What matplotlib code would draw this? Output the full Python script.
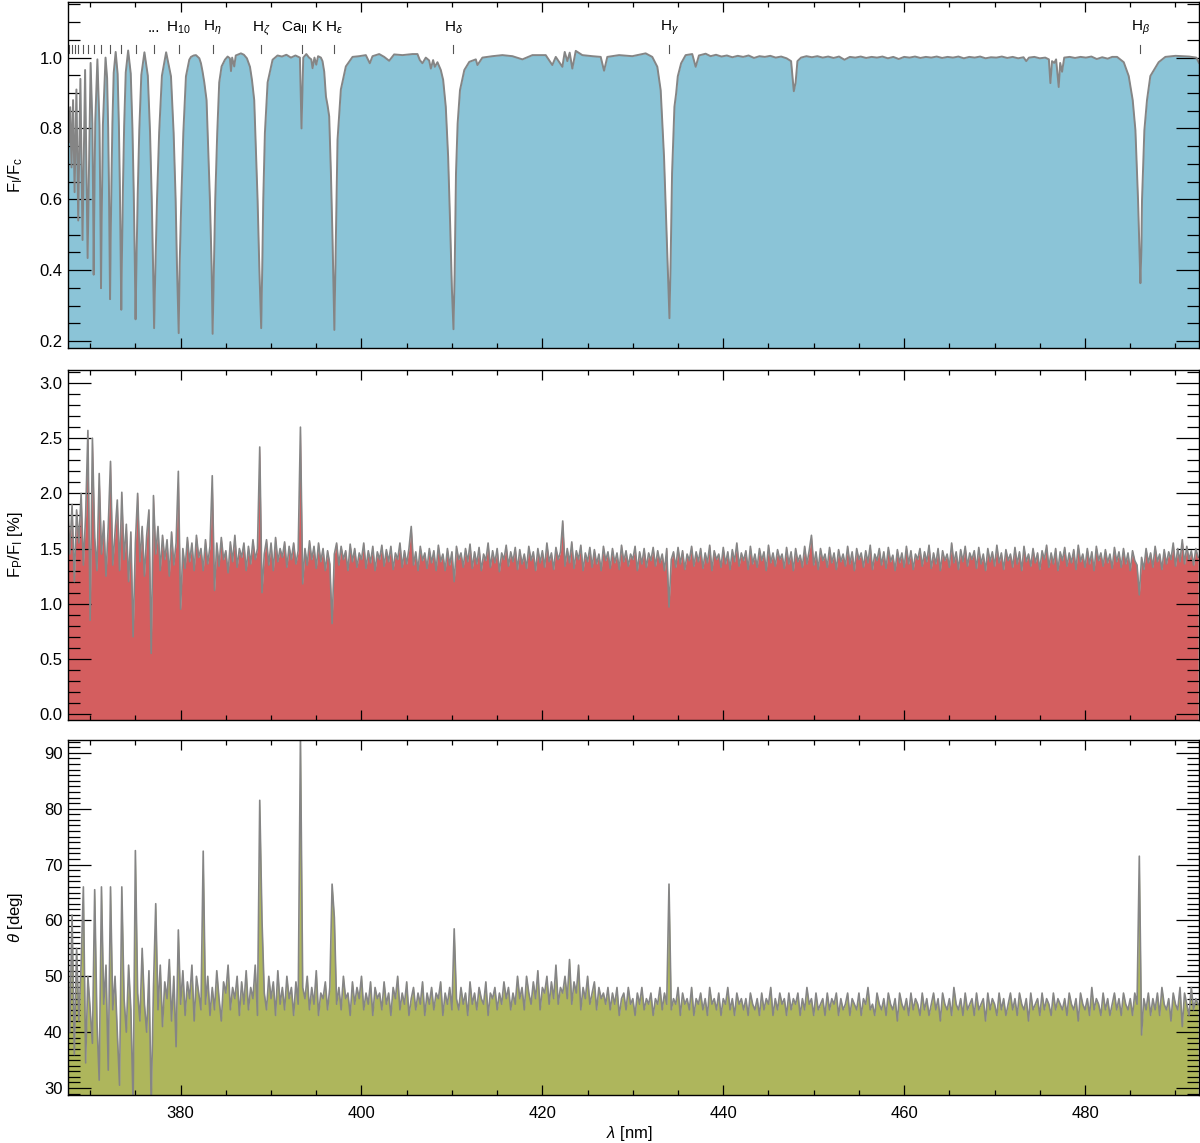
import numpy as np
import matplotlib
matplotlib.use('Agg')
import matplotlib.pyplot as plt
from matplotlib.ticker import MultipleLocator

plt.rcParams['font.family'] = ['Liberation Sans', 'DejaVu Sans']
plt.rcParams['mathtext.fontset'] = 'custom'
plt.rcParams['mathtext.rm'] = 'Liberation Sans'
plt.rcParams['mathtext.it'] = 'Liberation Sans:italic'
plt.rcParams['mathtext.bf'] = 'Liberation Sans:bold'
plt.rcParams['mathtext.sf'] = 'Liberation Sans'

# ---------------- top panel: normalised intensity spectrum ----------------
flux_wl = [
    367.55, 367.64, 367.79, 367.94, 368.11, 368.28, 368.48, 368.68, 368.92, 369.16,
    369.44, 369.72, 370.05, 370.247, 370.353, 370.39, 370.435, 370.562, 370.80, 371.032,
    371.156, 371.20, 371.255, 371.41, 371.70, 371.875, 371.99, 372.077, 372.145, 372.20,
    372.268, 372.352, 372.46, 372.603, 372.82, 373.037, 373.18, 373.288, 373.372, 373.44,
    373.524, 373.626, 373.759, 373.934, 374.2, 374.487, 374.676, 374.819, 374.93, 375.02,
    375.128, 375.26, 375.432, 375.657, 376.0, 376.375, 376.621, 376.808, 376.952, 377.07,
    377.216, 377.396, 377.629, 377.935, 378.4, 378.936, 379.23, 379.45, 379.60, 379.79,
    379.89, 380.08, 380.30, 380.59, 380.96, 381.15, 381.45, 381.70, 382.07, 382.25,
    382.43, 382.62, 382.87, 383.24, 383.43, 383.54, 383.68, 383.83, 384.05, 384.27,
    384.53, 384.90, 385.2, 385.45, 385.57, 385.7, 385.93, 386.1, 386.67, 387.0,
    387.33, 387.67, 387.89, 388.14, 388.51, 388.70, 388.91, 389.03, 389.14, 389.32,
    389.62, 390.17, 390.72, 391.2, 391.7, 392.2, 392.7, 393.19, 393.30, 393.37,
    393.45, 393.56, 393.9, 394.2, 394.45, 394.59, 394.8, 395.0, 395.2, 395.51,
    395.69, 395.88, 396.07, 396.25, 396.43, 396.62, 396.80, 397.0, 397.17, 397.35,
    397.72, 398.27, 399.01, 399.75, 400.48, 400.92, 401.22, 401.96, 402.51, 403.06,
    403.61, 404.53, 405.64, 406.19, 406.45, 406.74, 407.11, 407.48, 407.67, 407.92,
    408.11, 408.40, 408.77, 409.03, 409.32, 409.58, 409.80, 410.0, 410.17, 410.30,
    410.45, 410.63, 410.89, 411.37, 411.92, 412.64, 412.82, 413.37, 414.48, 415.58,
    416.69, 417.79, 418.90, 420.37, 421.10, 421.48, 422.21, 422.47, 422.76, 423.02,
    423.31, 423.69, 424.42, 425.52, 426.45, 426.82, 427.18, 428.48, 429.94, 431.42,
    432.15, 432.71, 433.08, 433.45, 433.70, 433.89, 434.05, 434.19, 434.34, 434.60,
    434.79, 434.97, 435.34, 435.84, 436.57, 436.95, 437.31, 438.05, 438.6, 439.2,
    439.8, 440.4, 441.0, 441.6, 442.2, 442.8, 443.4, 444.0, 444.6, 445.2,
    445.8, 446.4, 447.0, 447.5, 447.8, 448.0, 448.2, 448.6, 449.2, 449.8,
    450.4, 451.0, 451.6, 452.2, 452.8, 453.4, 454.0, 454.6, 455.2, 455.8,
    456.4, 457.0, 457.6, 458.2, 458.8, 459.4, 460.0, 460.6, 461.2, 461.8,
    462.4, 463.0, 463.6, 464.2, 464.8, 465.4, 466.0, 466.6, 467.2, 467.8,
    468.4, 469.0, 469.6, 470.2, 470.8, 471.4, 472.0, 472.6, 473.2, 473.5,
    473.8, 474.4, 475.0, 475.6, 476.0, 476.17, 476.35, 476.6, 476.8, 477.09,
    477.25, 477.46, 477.7, 478.3, 478.9, 479.5, 480.1, 480.7, 481.3, 481.9,
    482.5, 483.0, 483.54, 484.28, 484.83, 485.27, 485.57, 485.86, 486.01, 486.12,
    486.23, 486.30, 486.56, 486.85, 487.22, 488.14, 488.88, 490.0, 491.5, 492.3,
    492.6,
]
flux_val = [
    0.84, 0.76, 0.86, 0.69, 0.88, 0.62, 0.91, 0.54, 0.94, 0.485,
    0.965, 0.434, 0.985, 0.812, 0.525, 0.387, 0.527, 0.819, 0.995, 0.808,
    0.498, 0.349, 0.499, 0.811, 1.0, 0.942, 0.802, 0.639, 0.475, 0.318,
    0.479, 0.646, 0.814, 0.957, 1.016, 0.954, 0.805, 0.630, 0.455, 0.288,
    0.456, 0.632, 0.808, 0.958, 1.02, 0.955, 0.80, 0.618, 0.436, 0.261,
    0.434, 0.615, 0.796, 0.951, 1.015, 0.949, 0.789, 0.602, 0.415, 0.236,
    0.415, 0.602, 0.789, 0.949, 1.015, 0.947, 0.787, 0.60, 0.41, 0.222,
    0.41, 0.60, 0.787, 0.947, 0.994, 1.002, 1.006, 1.007, 0.998, 0.984,
    0.960, 0.930, 0.88, 0.60, 0.41, 0.22, 0.41, 0.60, 0.787, 0.93,
    0.975, 0.994, 1.003, 0.998, 0.962, 1.0, 0.975, 1.006, 1.012, 1.008,
    0.998, 0.974, 0.937, 0.88, 0.60, 0.41, 0.236, 0.41, 0.60, 0.787,
    0.93, 0.994, 1.006, 1.003, 1.008, 1.0, 1.006, 1.0, 0.88, 0.80,
    0.88, 1.0, 1.01, 1.0, 0.995, 0.97, 1.0, 0.98, 1.004, 1.0,
    0.99, 0.96, 0.89, 0.865, 0.834, 0.674, 0.485, 0.231, 0.486, 0.768,
    0.91, 0.975, 1.002, 1.004, 1.007, 0.984, 1.004, 1.01, 1.002, 0.991,
    1.009, 1.007, 1.01, 1.01, 0.993, 0.984, 1.0, 0.992, 0.969, 0.993,
    0.974, 0.987, 0.965, 0.937, 0.861, 0.72, 0.532, 0.344, 0.233, 0.391,
    0.674, 0.814, 0.908, 0.965, 0.988, 0.995, 0.979, 1.0, 1.004, 1.007,
    1.004, 0.995, 1.007, 1.007, 0.979, 1.002, 0.974, 1.016, 0.99, 1.014,
    0.969, 1.019, 1.007, 1.004, 1.002, 0.963, 1.002, 1.007, 1.004, 1.012,
    1.002, 0.974, 0.908, 0.72, 0.532, 0.391, 0.264, 0.438, 0.674, 0.861,
    0.899, 0.947, 0.984, 1.007, 1.01, 0.974, 1.006, 1.011, 1.004, 1.008,
    1.003, 1.006, 1.001, 1.005, 1.002, 1.006, 0.999, 1.004, 1.002, 1.005,
    1.0, 1.003, 0.998, 0.99, 0.905, 0.93, 0.99, 1.0, 1.004, 1.001,
    1.004, 1.0, 1.003, 0.999, 1.003, 0.994, 1.002, 1.0, 1.003, 0.999,
    1.002, 1.0, 1.003, 0.998, 1.002, 0.996, 1.002, 1.0, 1.003, 0.999,
    1.002, 1.0, 1.003, 0.999, 1.002, 1.0, 1.003, 0.998, 1.002, 1.0,
    1.003, 0.998, 1.001, 1.0, 1.003, 0.999, 1.002, 0.998, 1.001, 0.99,
    1.0, 1.002, 0.998, 1.0, 0.995, 0.928, 0.99, 0.985, 0.995, 0.917,
    0.985, 0.96, 1.0, 1.002, 0.999, 1.002, 1.0, 1.003, 0.996, 1.001,
    0.997, 1.002, 1.002, 0.987, 0.948, 0.88, 0.795, 0.598, 0.457, 0.363,
    0.457, 0.598, 0.795, 0.88, 0.948, 0.987, 1.002, 1.005, 1.003, 1.0,
    0.985,
]

# line identifications (top annotations)
line_wl = [377.07, 379.79, 383.54, 388.91, 393.37, 397.0, 410.17, 434.05, 486.13]
line_lbl = ['...', 'H$_{10}$', r'H$_\eta$', r'H$_\zeta$', r'Ca$_{\rm II}$ K',
            r'H$_\varepsilon$', r'H$_\delta$', r'H$_\gamma$', r'H$_\beta$']
series_wl = [367.64, 367.94, 368.28, 368.68, 369.16, 369.72, 370.39, 371.20,
             372.20, 373.44, 375.02]

# ---------------- middle panel: polarised fraction [%] ----------------
grid_start = 367.5
grid_step = 0.25
pol_val = [
    1.95, 1.45, 1.90, 1.20, 1.85, 1.55, 2.00, 1.35, 1.80, 2.57, 0.85, 2.50, 1.60, 1.30, 2.18, 1.45, 1.75, 1.25, 1.70, 2.29,
    1.35, 1.65, 1.94, 1.30, 2.01, 1.40, 1.72, 1.20, 1.65, 0.70, 1.55, 2.00, 1.38, 1.70, 1.25, 1.62, 1.85, 0.55, 1.98, 1.45,
    1.70, 1.30, 1.62, 1.40, 1.58, 1.25, 1.65, 1.35, 1.55, 2.20, 0.95, 1.50, 1.32, 1.60, 1.38, 1.55, 1.30, 1.62, 1.42, 1.50,
    1.30, 1.58, 1.36, 1.52, 2.16, 1.12, 1.55, 1.34, 1.60, 1.40, 1.48, 1.28, 1.56, 1.38, 1.62, 1.33, 1.50, 1.42, 1.55, 1.30,
    1.52, 1.36, 1.58, 1.40, 1.50, 2.42, 1.10, 1.45, 1.58, 1.35, 1.55, 1.30, 1.60, 1.38, 1.50, 1.42, 1.56, 1.33, 1.52, 1.40,
    1.55, 1.36, 1.48, 2.60, 1.18, 1.50, 1.35, 1.57, 1.40, 1.52, 1.32, 1.55, 1.38, 1.50, 1.30, 1.48, 1.36, 0.82, 1.45, 1.55,
    1.35, 1.52, 1.40, 1.48, 1.30, 1.54, 1.38, 1.50, 1.33, 1.46, 1.40, 1.55, 1.32, 1.48, 1.37, 1.52, 1.30, 1.47, 1.40, 1.53,
    1.34, 1.49, 1.38, 1.52, 1.31, 1.46, 1.40, 1.55, 1.33, 1.48, 1.36, 1.50, 1.70, 1.35, 1.47, 1.30, 1.52, 1.39, 1.46, 1.32,
    1.50, 1.37, 1.48, 1.30, 1.53, 1.38, 1.45, 1.30, 1.50, 1.35, 1.47, 1.20, 1.52, 1.40, 1.46, 1.33, 1.50, 1.38, 1.54, 1.32,
    1.47, 1.36, 1.51, 1.30, 1.45, 1.39, 1.55, 1.33, 1.48, 1.37, 1.50, 1.29, 1.46, 1.40, 1.53, 1.34, 1.47, 1.38, 1.51, 1.31,
    1.49, 1.36, 1.45, 1.32, 1.52, 1.39, 1.47, 1.30, 1.50, 1.37, 1.48, 1.33, 1.55, 1.38, 1.46, 1.31, 1.51, 1.40, 1.47, 1.75,
    1.34, 1.50, 1.37, 1.56, 1.32, 1.48, 1.40, 1.53, 1.30, 1.46, 1.38, 1.51, 1.33, 1.49, 1.36, 1.45, 1.30, 1.52, 1.39, 1.47,
    1.32, 1.50, 1.37, 1.46, 1.31, 1.53, 1.38, 1.48, 1.34, 1.45, 1.40, 1.52, 1.30, 1.47, 1.36, 1.50, 1.33, 1.46, 1.39, 1.51,
    1.34, 1.48, 1.37, 1.45, 1.30, 1.50, 0.97, 1.40, 1.47, 1.33, 1.51, 1.36, 1.48, 1.31, 1.45, 1.39, 1.52, 1.34, 1.47, 1.38,
    1.50, 1.32, 1.46, 1.37, 1.53, 1.30, 1.48, 1.40, 1.45, 1.33, 1.51, 1.36, 1.47, 1.31, 1.49, 1.38, 1.55, 1.34, 1.46, 1.39,
    1.48, 1.31, 1.52, 1.36, 1.45, 1.33, 1.50, 1.39, 1.47, 1.30, 1.53, 1.37, 1.46, 1.34, 1.49, 1.40, 1.45, 1.32, 1.51, 1.36,
    1.47, 1.30, 1.50, 1.38, 1.44, 1.33, 1.52, 1.36, 1.48, 1.62, 1.35, 1.47, 1.31, 1.50, 1.39, 1.45, 1.33, 1.51, 1.37, 1.46,
    1.31, 1.49, 1.38, 1.45, 1.34, 1.52, 1.36, 1.47, 1.30, 1.50, 1.40, 1.46, 1.33, 1.48, 1.37, 1.53, 1.31, 1.45, 1.39, 1.50,
    1.35, 1.47, 1.32, 1.51, 1.38, 1.44, 1.30, 1.49, 1.37, 1.46, 1.33, 1.52, 1.36, 1.48, 1.31, 1.45, 1.40, 1.50, 1.34, 1.47,
    1.38, 1.53, 1.32, 1.46, 1.36, 1.50, 1.30, 1.48, 1.39, 1.45, 1.33, 1.55, 1.37, 1.47, 1.31, 1.49, 1.38, 1.52, 1.34, 1.46,
    1.40, 1.48, 1.32, 1.51, 1.36, 1.45, 1.30, 1.50, 1.38, 1.47, 1.34, 1.53, 1.37, 1.46, 1.31, 1.49, 1.39, 1.45, 1.33, 1.51,
    1.36, 1.47, 1.30, 1.52, 1.38, 1.45, 1.34, 1.50, 1.37, 1.46, 1.31, 1.48, 1.40, 1.53, 1.33, 1.46, 1.36, 1.50, 1.30, 1.47,
    1.39, 1.51, 1.34, 1.46, 1.37, 1.49, 1.31, 1.53, 1.38, 1.45, 1.33, 1.50, 1.36, 1.47, 1.30, 1.52, 1.39, 1.46, 1.34, 1.49,
    1.37, 1.45, 1.32, 1.51, 1.38, 1.47, 1.33, 1.50, 1.36, 1.46, 1.30, 1.48, 1.39, 1.35, 1.08, 1.42, 1.31, 1.50, 1.37, 1.46,
    1.33, 1.52, 1.38, 1.45, 1.31, 1.49, 1.36, 1.47, 1.40, 1.55, 1.34, 1.50, 1.38, 1.58, 1.36, 1.52, 1.40, 1.48, 1.35, 1.50,
    1.42,
]

# ---------------- bottom panel: polarisation angle [deg] ----------------
ang_val = [
    58, 40, 61, 36, 55, 42, 52, 66, 34.5, 50, 44, 38, 65.5, 42, 31.4, 66, 45, 52, 33.2, 66,
    44, 50, 40, 30.5, 66, 46, 40, 52, 44, 27, 72.5, 47, 42, 55, 45, 40, 51, 27, 48, 63,
    44, 52, 41, 49, 46, 53, 42, 50, 37.4, 58.3, 45, 51, 43, 49, 46, 52, 42, 50, 47, 44,
    72.4, 45, 50, 43, 48, 44, 51, 46, 42, 49, 47, 52, 44, 48, 46, 50, 43, 49, 45, 51,
    44, 48, 46, 52, 43, 81.5, 60, 47, 44, 50, 46, 49, 43, 51, 45, 48, 44, 50, 46, 48,
    43, 49, 45, 93, 48, 46, 50, 44, 48, 45, 51, 43, 47, 46, 49, 44, 48, 66.5, 60.5, 45,
    48, 44, 50, 46, 47, 43, 49, 45, 48, 46, 50, 44, 47, 45, 49, 43, 48, 46, 47, 44,
    49, 45, 47, 43, 48, 46, 50, 44, 47, 45, 49, 43, 46, 48, 44, 47, 45, 49, 43, 47,
    45, 48, 44, 47, 46, 49, 43, 47, 45, 48, 44, 58.5, 46, 44, 48, 45, 47, 43, 49, 45,
    47, 44, 48, 46, 45, 49, 43, 47, 46, 48, 44, 47, 45, 49, 46, 48, 44, 47, 45, 50,
    46, 48, 44, 50, 47, 45, 49, 46, 51, 44, 48, 47, 50, 45, 49, 46, 52, 45, 48, 47,
    50, 46, 53, 45, 49, 47, 52, 44, 48, 46, 50, 45, 47, 49, 44, 48, 46, 47, 45, 48,
    44, 47, 45, 48, 43, 46, 47, 44, 48, 45, 46, 43, 47, 45, 48, 44, 46, 45, 47, 43,
    46, 45, 48, 44, 47, 45, 66.5, 44, 46, 45, 48, 43, 47, 45, 46, 44, 48, 43, 46, 45,
    47, 44, 46, 43, 48, 45, 46, 44, 47, 43, 46, 45, 48, 44, 46, 43, 47, 45, 46, 44,
    46, 43, 47, 45, 44, 46, 43, 47, 44, 46, 45, 48, 43, 46, 44, 47, 45, 46, 43, 47,
    44, 46, 45, 47, 43, 46, 44, 48, 45, 46, 43, 47, 44, 45, 46, 43, 47, 44, 46, 45,
    47, 43, 46, 44, 45, 47, 43, 46, 45, 44, 47, 43, 46, 45, 48, 44, 45, 43, 47, 45,
    44, 46, 43, 47, 45, 44, 46, 42, 47, 45, 44, 46, 43, 47, 44, 46, 45, 43, 47, 44,
    46, 43, 45, 47, 44, 46, 42, 47, 45, 44, 46, 43, 48, 45, 44, 46, 43, 47, 44, 45,
    46, 43, 47, 44, 45, 46, 42, 47, 44, 46, 45, 43, 47, 44, 46, 43, 45, 47, 44, 46,
    43, 47, 45, 44, 46, 42, 47, 44, 45, 46, 43, 47, 44, 46, 45, 43, 47, 44, 46, 45,
    44, 46, 43, 47, 45, 44, 46, 42, 47, 45, 44, 46, 43, 48, 44, 46, 45, 43, 47, 44,
    46, 43, 45, 47, 44, 46, 43, 47, 45, 44, 46, 43, 47, 45, 71.5, 39.5, 46, 44, 47, 43,
    46, 44, 47, 43, 48, 45, 44, 46, 42, 47, 45, 44, 48, 41, 47, 45, 43, 48, 44, 46,
    45,
]

# ---------------- figure ----------------
LINE_C = '#858585'
BLUE = '#8BC4D7'
RED = '#D45E5F'
OLIVE = '#AEB65C'

fig = plt.figure(figsize=(12, 11.43), dpi=100)
L, W = 68 / 1200, 1131 / 1200


def rect(y0, y1):
    return [L, 1 - y1 / 1143, W, (y1 - y0) / 1143]


ax1 = fig.add_axes(rect(2, 348))
ax2 = fig.add_axes(rect(370, 720))
ax3 = fig.add_axes(rect(740, 1095))

XLIM = (367.55, 492.6)


def style(ax, ymaj, ymin, ylim, labelx=False):
    ax.set_xlim(*XLIM)
    ax.set_ylim(*ylim)
    ax.xaxis.set_major_locator(MultipleLocator(20))
    ax.xaxis.set_minor_locator(MultipleLocator(5))
    ax.yaxis.set_major_locator(MultipleLocator(ymaj))
    ax.yaxis.set_minor_locator(MultipleLocator(ymin))
    ax.tick_params(axis='both', which='both', direction='in', top=True, right=True,
                   width=0.9, color='black', labelsize=12,
                   labelbottom=labelx, labeltop=False, labelright=False)
    ax.tick_params(axis='y', which='major', length=16.5, pad=4)
    ax.tick_params(axis='y', which='minor', length=8.5)
    ax.tick_params(axis='x', which='major', length=7, pad=8)
    ax.tick_params(axis='x', which='minor', length=3.5)
    for s in ax.spines.values():
        s.set_linewidth(1.0)
    ax.yaxis.set_label_coords(-0.038, 0.5)


# top
wl = np.array(flux_wl)
fl = np.array(flux_val)
ax1.fill_between(wl, 0, fl, color=BLUE, lw=0)
ax1.plot(wl, fl, color=LINE_C, lw=1.4)
style(ax1, 0.2, 0.05, (0.18, 1.157))
ax1.set_ylabel(r'F$_{\rm I}$/F$_{\rm c}$', fontsize=12)
for w in series_wl + line_wl:
    ax1.plot([w, w], [1.013, 1.036], color='#555555', lw=0.8)
for w, t in zip(line_wl, line_lbl):
    ax1.text(w, 1.083, t, ha='center', va='center', fontsize=11)

# middle
pv = np.array(pol_val)
px = grid_start + grid_step * np.arange(len(pv))
ax2.fill_between(px, -1, pv, color=RED, lw=0)
ax2.plot(px, pv, color=LINE_C, lw=1.2)
style(ax2, 0.5, 0.1, (-0.054, 3.118))
ax2.set_ylabel(r'F$_{\rm P}$/F$_{\rm I}$ [%]', fontsize=12)

# bottom
av = np.array(ang_val, dtype=float)
ax_ = grid_start + grid_step * np.arange(len(av))
ax3.fill_between(ax_, 0, av, color=OLIVE, lw=0)
ax3.plot(ax_, av, color=LINE_C, lw=1.2)
style(ax3, 10, 1, (28.75, 92.3), labelx=True)
ax3.set_ylabel(r'$\theta$ [deg]', fontsize=12)
ax3.set_xlabel(r'$\lambda$ [nm]', fontsize=12)
ax3.xaxis.set_label_coords(0.496, -0.083)

fig.savefig('out.png', dpi=100)
